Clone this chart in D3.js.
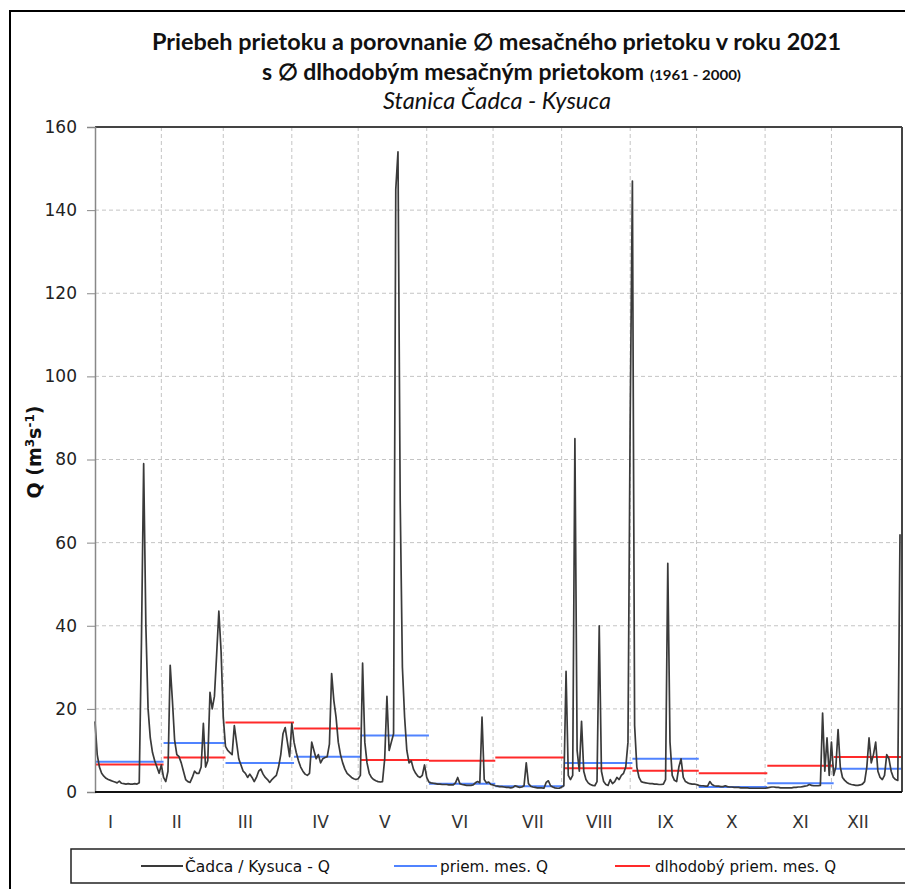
<!DOCTYPE html>
<html><head><meta charset="utf-8">
<script src="https://cdn.jsdelivr.net/npm/d3@7/dist/d3.min.js"></script>
<style>body{margin:0;background:#fff}</style>
</head><body>
<svg id="c" width="905" height="889"></svg>
<script>
const months = ["I","II","III","IV","V","VI","VII","VIII","IX","X","XI","XII"];
const monthDays = [31,28,31,30,31,30,31,31,30,31,30,31];
const monthLabelDay = [7,37,68,102,131,165,198,228,258,288,319,345];
const yTicks = [0,20,40,60,80,100,120,140,160];
const qJan = [17,9,6,4.5,3.8,3.3,3,2.8,2.6,2.4,2.2,2.6,2.1,2.0,1.9,2.0,1.9,1.9,2.0,1.9,2.2,36,79,40,20,13,9.5,7.5,6,4.5,6.5];
const qFeb = [3.5,2.5,5,30.5,22,12.5,9,8.5,7,5,3,2.5,2.3,3.5,5,4.5,4.5,6,16.5,6,7.5,24,20,23,33,43.5,34,18];
const qMar = [11,10,9.5,9,16,12,8,6.5,5,4.5,3.5,4.3,3.5,2.5,3.5,5,5.5,4.3,3.5,3,2.3,3,3.5,4,6,9,14,15.5,12,8.5,16.5];
const qApr = [12,9.5,7.5,6,5,4.3,4,4.5,12,10,8,9,7,8,8.3,8.5,11.5,28.5,22,18,12,9,7,5.5,4.5,4,3.5,3.2,3.0,3.2];
const qMay = [4,31,12,7,4.5,3.5,3,2.7,2.5,2.4,2.5,8,23,10,12,14,145,154,70,30,18,10,7,7.5,5.5,4.5,3.8,3.5,4,6.5,3.5];
const qJun = [2.4,2.2,2.1,2,1.9,1.9,1.8,1.8,1.8,1.7,1.7,1.7,2.2,3.5,2,1.8,1.7,1.6,1.6,1.6,1.7,2.2,2.5,2.2,18,3,2.2,2.4,1.8,1.7];
const qJul = [1.5,1.4,1.3,1.3,1.2,1.1,1.1,1.0,1.1,1.5,1.3,1.1,1.2,1.5,7,2,1.4,1.2,1.1,1.0,1.0,1.0,0.9,2.3,2.7,1.5,1.2,1.0,0.9,0.9,1.2];
const qAug = [1.5,29,4,3,4,85,10,5,17,5,3,2.2,1.8,1.6,1.5,2.5,40,5,2.5,1.8,1.6,3,2,2.5,3.5,3,4,4.5,6,12,90];
const qSep = [147,16,6,3.5,2.5,2.3,2.2,2.1,2.0,2.0,1.9,1.9,1.8,1.8,1.9,3,55,12,4,2.8,2.5,6,8,3.5,2.5,2.2,2.0,1.9,1.9,1.8];
const qOct = [1.6,1.5,1.5,1.4,1.4,2.5,1.8,1.5,1.4,1.4,1.3,1.3,1.5,1.3,1.2,1.2,1.1,1.1,1.1,1.0,1.0,1.0,1.0,0.9,0.9,0.9,0.9,0.9,0.9,0.9,0.9];
const qNov = [1.0,1.1,1.2,1.2,1.1,1.1,1.0,1.0,1.0,1.0,1.0,1.0,1.1,1.1,1.2,1.2,1.3,1.4,1.5,1.8,1.6,1.5,1.5,1.5,1.6,19,5,13,4,12];
const qDec = [4,6,15,6,3.5,2.8,2.3,2.0,1.8,1.7,1.6,1.6,1.7,1.9,2.5,6,13,7,9,12,5,3.5,3,4,9,8,5,3.5,3,2.8,62];
const meanMonth2021 = [7.3,11.8,7.0,8.5,13.6,2.0,1.4,7.0,8.0,1.2,2.1,5.6];
const meanLongTerm = [6.6,8.3,16.7,15.3,7.7,7.5,8.3,5.7,5.1,4.5,6.3,8.4];
const legendLabels = ["Čadca / Kysuca - Q","priem. mes. Q","dlhodobý priem. mes. Q"];

const daily = [].concat(qJan,qFeb,qMar,qApr,qMay,qJun,qJul,qAug,qSep,qOct,qNov,qDec);
const cum = [0]; monthDays.forEach(d=>cum.push(cum[cum.length-1]+d));

const svg = d3.select("#c");
const L=95, R=902, T=127, B=792;
const x = d3.scaleLinear().domain([0,364]).range([L,900]);
const y = d3.scaleLinear().domain([0,160]).range([B,T]);
const axisFont = "DejaVu Sans, Verdana, sans-serif";

// outer chart border
svg.append("rect").attr("x",10).attr("y",11).attr("width",1000).attr("height",1000)
  .attr("fill","none").attr("stroke","#000").attr("stroke-width",2);

// gridlines
const g = svg.append("g");
g.selectAll(".hg").data(yTicks.filter(t=>t>0&&t<160)).enter().append("line")
  .attr("x1",L).attr("x2",R).attr("y1",d=>y(d)).attr("y2",d=>y(d))
  .attr("stroke","#c4c4c4").attr("stroke-dasharray","4,3").attr("stroke-width",1);
g.selectAll(".vg").data(cum.slice(1,12)).enter().append("line")
  .attr("x1",d=>x(d-1)).attr("x2",d=>x(d-1)).attr("y1",T).attr("y2",B)
  .attr("stroke","#c4c4c4").attr("stroke-dasharray","4,3").attr("stroke-width",1);

// monthly mean segments
const segs = svg.append("g");
segs.selectAll(".red").data(meanLongTerm).enter().append("line")
  .attr("x1",(d,i)=>x(cum[i])).attr("x2",(d,i)=>x(Math.min(cum[i+1],364.9)))
  .attr("y1",d=>y(d)).attr("y2",d=>y(d)).attr("stroke","#ff2a2a").attr("stroke-width",2);
segs.selectAll(".blue").data(meanMonth2021).enter().append("line")
  .attr("x1",(d,i)=>x(cum[i])).attr("x2",(d,i)=>x(Math.min(cum[i+1],364.9)))
  .attr("y1",d=>y(d)).attr("y2",d=>y(d)).attr("stroke","#5083ff").attr("stroke-width",2);

// daily line
svg.append("path").datum(daily)
  .attr("d", d3.line().x((d,i)=>x(i)).y(d=>y(d)))
  .attr("fill","none").attr("stroke","#3a3a3a").attr("stroke-width",1.7).attr("stroke-linejoin","round");

// frame
svg.append("line").attr("x1",L).attr("x2",R).attr("y1",T).attr("y2",T).attr("stroke","#444").attr("stroke-width",2);
svg.append("line").attr("x1",R).attr("x2",R).attr("y1",T).attr("y2",B).attr("stroke","#444").attr("stroke-width",2);

// y axis
const ya = svg.append("g").attr("transform",`translate(${L},0)`)
  .call(d3.axisLeft(y).tickValues(yTicks).tickSize(8).tickPadding(10));
ya.select(".domain").attr("stroke","#888").attr("stroke-width",1.5);
ya.selectAll(".tick line").attr("stroke","#888");
ya.selectAll("text").attr("font-family",axisFont).attr("font-size",17).attr("fill","#222");

// x baseline
svg.append("line").attr("x1",L).attr("x2",R).attr("y1",B).attr("y2",B).attr("stroke","#111").attr("stroke-width",2);

// month labels
svg.selectAll(".ml").data(months).enter().append("text")
  .attr("x",(d,i)=>x(monthLabelDay[i])).attr("y",828).attr("text-anchor","middle")
  .attr("font-family",axisFont).attr("font-size",17).attr("fill","#333").text(d=>d);

// y title
const yt = svg.append("text").attr("transform","translate(41,452) rotate(-90)")
  .attr("text-anchor","middle").attr("font-family",axisFont)
  .attr("font-size",19).attr("font-weight","bold").attr("fill","#111");
yt.append("tspan").text("Q (m");
yt.append("tspan").attr("font-size",12).attr("dy",-7).text("3");
yt.append("tspan").attr("dy",7).text("s");
yt.append("tspan").attr("font-size",12).attr("dy",-7).text("-1");
yt.append("tspan").attr("dy",7).text(")");

// titles
const tf = "Lato, Open Sans, sans-serif";
svg.append("text").attr("x",152).attr("y",50)
  .attr("font-family",tf).attr("font-weight","bold").attr("font-size",23).attr("fill","#111")
  .attr("textLength",689).attr("lengthAdjust","spacingAndGlyphs")
  .text("Priebeh prietoku a porovnanie ∅ mesačného prietoku v roku 2021");
svg.append("text").attr("x",262).attr("y",80)
  .attr("font-family",tf).attr("font-weight","bold").attr("font-size",23).attr("fill","#111")
  .attr("textLength",382).attr("lengthAdjust","spacingAndGlyphs")
  .text("s ∅ dlhodobým mesačným prietokom");
svg.append("text").attr("x",650).attr("y",80)
  .attr("font-family",tf).attr("font-weight","bold").attr("font-size",13).attr("fill","#111")
  .attr("textLength",91).attr("lengthAdjust","spacingAndGlyphs")
  .text("(1961 - 2000)");
svg.append("text").attr("x",383).attr("y",109)
  .attr("font-family",tf).attr("font-style","italic").attr("font-size",23).attr("fill","#111")
  .attr("textLength",228).attr("lengthAdjust","spacingAndGlyphs")
  .text("Stanica Čadca - Kysuca");

// legend
svg.append("rect").attr("x",71).attr("y",849).attr("width",900).attr("height",34)
  .attr("fill","#fff").attr("stroke","#222").attr("stroke-width",1.5);
const legItems = [
  {color:"#3a3a3a", x1:141, x2:183, tx:185, tw:145},
  {color:"#5083ff", x1:394, x2:437, tx:440, tw:108},
  {color:"#ff2a2a", x1:615, x2:650, tx:655, tw:181}
];
const lg = svg.selectAll(".lg").data(legItems).enter().append("g");
lg.append("line").attr("x1",d=>d.x1).attr("x2",d=>d.x2).attr("y1",866).attr("y2",866)
  .attr("stroke",d=>d.color).attr("stroke-width",2);
lg.append("text").attr("x",d=>d.tx).attr("y",872).attr("font-family","DejaVu Sans Condensed, DejaVu Sans, sans-serif")
  .attr("font-size",16).attr("fill","#111")
  .attr("textLength",d=>d.tw).attr("lengthAdjust","spacingAndGlyphs")
  .text((d,i)=>legendLabels[i]);
</script>
</body></html>
